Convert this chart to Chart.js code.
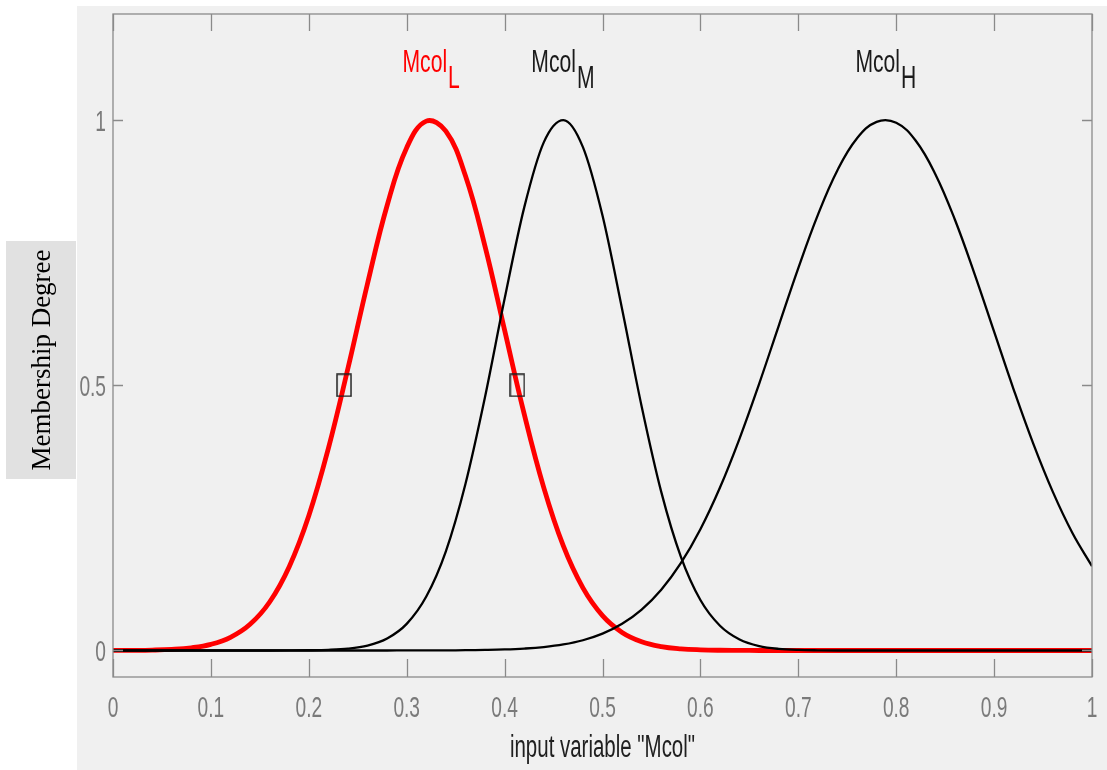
<!DOCTYPE html>
<html>
<head>
<meta charset="utf-8">
<script src="https://cdn.jsdelivr.net/npm/chart.js@4"></script>
<style>
  body { margin: 0; background: #fff; }
  #wrap { position: relative; width: 1107px; height: 770px; }
</style>
</head>
<body>
<div id="wrap"><canvas id="mf-chart" width="1107" height="770"></canvas></div>
<script>
// input variable grid
const xValues = [0, 0.02, 0.04, 0.06, 0.08, 0.1, 0.12, 0.14, 0.16, 0.18,
    0.2, 0.22, 0.24, 0.26, 0.28, 0.3, 0.32, 0.34, 0.36, 0.38,
    0.4, 0.42, 0.44, 0.46, 0.48, 0.5, 0.52, 0.54, 0.56, 0.58,
    0.6, 0.62, 0.64, 0.66, 0.68, 0.7, 0.72, 0.74, 0.76, 0.78,
    0.8, 0.82, 0.84, 0.86, 0.88, 0.9, 0.92, 0.94, 0.96, 0.98, 1];

// membership degrees
const mcolL = [0.0001, 0.0003, 0.0008, 0.0021, 0.0051, 0.0116, 0.0248, 0.0493, 0.0914, 0.158,
    0.254, 0.381, 0.532, 0.692, 0.839, 0.948, 0.998, 0.979, 0.895, 0.762,
    0.604, 0.446, 0.307, 0.197, 0.118, 0.0657, 0.0341, 0.0165, 0.0074, 0.0031,
    0.0012, 0.0004, 0.0002, 0, 0, 0, 0, 0, 0, 0,
    0, 0, 0, 0, 0, 0, 0, 0, 0, 0, 0];
const mcolM = [0, 0, 0, 0, 0, 0, 0, 0, 0, 0.0001,
    0.0004, 0.0012, 0.0034, 0.0092, 0.0226, 0.0502, 0.1017, 0.187, 0.314, 0.478,
    0.663, 0.835, 0.958, 1, 0.949, 0.82, 0.644, 0.46, 0.299, 0.177,
    0.0951, 0.0466, 0.0207, 0.0084, 0.0031, 0.001, 0.0003, 0, 0, 0,
    0, 0, 0, 0, 0, 0, 0, 0, 0, 0, 0];
const mcolH = [0, 0, 0, 0, 0, 0, 0, 0, 0, 0,
    0, 0, 0, 0, 0, 0.0001, 0.0001, 0.0002, 0.0005, 0.001,
    0.0019, 0.0036, 0.0065, 0.0114, 0.0193, 0.0317, 0.0503, 0.0771, 0.1145, 0.1645,
    0.2286, 0.3072, 0.3996, 0.5028, 0.6121, 0.7209, 0.8214, 0.9056, 0.9658, 0.9967,
    0.995, 0.961, 0.898, 0.812, 0.71, 0.601, 0.492, 0.39, 0.299, 0.2215, 0.159];

const curveNames = ['Mcol', 'Mcol', 'Mcol'];
const curveSubs = ['L', 'M', 'H'];
const markerX = [0.236, 0.413];
const markerY = [0.5, 0.5];

const xTicks = [0, 0.1, 0.2, 0.3, 0.4, 0.5, 0.6, 0.7, 0.8, 0.9, 1];
const yTicks = [0, 0.5, 1];
const xTitle = 'input variable "Mcol"';
const yTitle = 'Membership Degree';

const toPoints = (ys) => xValues.map((x, i) => ({ x: x, y: ys[i] }));

// peak position of a curve (parabola through the top three samples)
function peakOf(ys) {
    let k = 0;
    ys.forEach((v, i) => { if (v > ys[k]) k = i; });
    if (k === 0 || k === ys.length - 1) return xValues[k];
    const a = ys[k - 1], b = ys[k], c = ys[k + 1];
    const h = xValues[k + 1] - xValues[k];
    return xValues[k] + h * (a - c) / (2 * (a - 2 * b + c));
}

// open rectangle used for the two 0.5 markers
const markerImg = document.createElement('canvas');
markerImg.width = 16;
markerImg.height = 24;
const mctx = markerImg.getContext('2d');
mctx.strokeStyle = '#222';
mctx.lineWidth = 1.5;
mctx.strokeRect(1, 1, 14, 22);

const NARROW = 0.66;
function narrowText(ctx, text, x, y, align, size, color) {
    ctx.save();
    ctx.translate(x, y);
    ctx.scale(NARROW, 1);
    ctx.font = size + 'px "Liberation Sans", Arial, sans-serif';
    ctx.fillStyle = color;
    ctx.textAlign = align;
    ctx.textBaseline = 'alphabetic';
    ctx.fillText(text, 0, 0);
    ctx.restore();
}

const matlabLook = {
    id: 'matlabLook',
    beforeDraw(chart) {
        const ctx = chart.ctx;
        ctx.save();
        ctx.fillStyle = '#fff';
        ctx.fillRect(0, 0, chart.width, chart.height);
        ctx.fillStyle = '#f0f0f0';
        ctx.fillRect(77, 6, chart.width - 77, chart.height - 6);
        // y title box
        ctx.fillStyle = '#e1e1e1';
        ctx.fillRect(6, 241, 70, 238);
        ctx.translate(50, 360);
        ctx.rotate(-Math.PI / 2);
        ctx.font = '27px "Liberation Serif", "Times New Roman", serif';
        ctx.fillStyle = '#000';
        ctx.textAlign = 'center';
        ctx.fillText(yTitle, 0, 0);
        ctx.restore();
    },
    afterDraw(chart) {
        const ctx = chart.ctx;
        const a = chart.chartArea;
        const xs = chart.scales.x;
        const ys = chart.scales.y;
        ctx.save();
        ctx.strokeStyle = '#8a8a8a';
        ctx.lineWidth = 1.3;
        ctx.strokeRect(a.left, a.top, a.right - a.left, a.bottom - a.top);
        ctx.beginPath();
        for (const t of xs.ticks) {
            const px = Math.round(xs.getPixelForValue(t.value)) + 0.5;
            ctx.moveTo(px, a.bottom);
            ctx.lineTo(px, a.bottom - 18);
            ctx.moveTo(px, a.top);
            ctx.lineTo(px, a.top + 17);
        }
        for (const t of ys.ticks) {
            const py = Math.round(ys.getPixelForValue(t.value)) + 0.5;
            ctx.moveTo(a.left, py);
            ctx.lineTo(a.left + 10, py);
            ctx.moveTo(a.right, py);
            ctx.lineTo(a.right - 10, py);
        }
        ctx.stroke();
        ctx.restore();

        // tick labels
        for (const t of xs.ticks) {
            const label = String(Number(t.value.toFixed(1)));
            narrowText(ctx, label, xs.getPixelForValue(t.value), a.bottom + 40, 'center', 29, '#7a7a7a');
        }
        for (const t of ys.ticks) {
            const label = String(Number(t.value.toFixed(1)));
            narrowText(ctx, label, a.left - 7, ys.getPixelForValue(t.value) + 10.5, 'right', 29, '#7a7a7a');
        }
        // x title
        narrowText(ctx, xTitle, (a.left + a.right) / 2, 757, 'center', 31, '#202020');

        // curve names with subscripts, centred over each peak
        const series = [mcolL, mcolM, mcolH];
        const colors = ['#ff0000', '#1a1a1a', '#1a1a1a'];
        const topY = ys.getPixelForValue(1);
        ctx.save();
        ctx.font = '32px "Liberation Sans", Arial, sans-serif';
        series.forEach((s, i) => {
            const cx = xs.getPixelForValue(peakOf(s));
            const wMain = ctx.measureText(curveNames[i]).width * NARROW;
            const wSub = ctx.measureText(curveSubs[i]).width * NARROW;
            const left = cx - (wMain + wSub) / 2;
            narrowText(ctx, curveNames[i], left, topY - 48, 'left', 32, colors[i]);
            narrowText(ctx, curveSubs[i], left + wMain + 1, topY - 32, 'left', 32, colors[i]);
        });
        ctx.restore();
    }
};

new Chart(document.getElementById('mf-chart'), {
    type: 'line',
    data: {
        datasets: [
            {
                label: 'markers',
                data: markerX.map((x, i) => ({ x: x, y: markerY[i] })),
                showLine: false,
                pointStyle: markerImg,
                pointRadius: 8,
                order: 0
            },
            {
                label: 'McolM',
                data: toPoints(mcolM),
                borderColor: '#000',
                borderWidth: 2.3,
                pointRadius: 0,
                cubicInterpolationMode: 'monotone',
                order: 1
            },
            {
                label: 'McolH',
                data: toPoints(mcolH),
                borderColor: '#000',
                borderWidth: 2.3,
                pointRadius: 0,
                tension: 0.4,
                order: 1
            },
            {
                label: 'McolL',
                data: toPoints(mcolL),
                borderColor: '#ff0000',
                borderWidth: 4.8,
                pointRadius: 0,
                tension: 0.4,
                order: 2
            }
        ]
    },
    options: {
        responsive: false,
        animation: false,
        devicePixelRatio: 1,
        layout: { padding: { left: 77, top: 14, right: 15, bottom: 0 } },
        plugins: {
            legend: { display: false },
            tooltip: { enabled: false }
        },
        scales: {
            x: {
                type: 'linear',
                min: 0,
                max: 1,
                grid: { display: false },
                border: { display: false },
                ticks: { display: false },
                afterBuildTicks: (scale) => { scale.ticks = xTicks.map(v => ({ value: v })); },
                afterFit: (scale) => { scale.height = 93; }
            },
            y: {
                min: -0.05,
                max: 1.2,
                grid: { display: false },
                border: { display: false },
                ticks: { display: false },
                afterBuildTicks: (scale) => { scale.ticks = yTicks.map(v => ({ value: v })); },
                afterFit: (scale) => { scale.width = 36; }
            }
        }
    },
    plugins: [matlabLook]
});
</script>
</body>
</html>
